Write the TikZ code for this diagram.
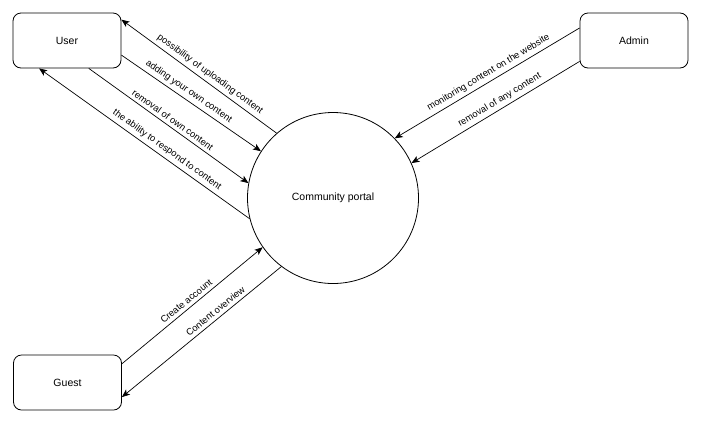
\documentclass[tikz,border=0pt]{standalone}
\usepackage{fontspec}
\setmainfont{Liberation Sans}
\usetikzlibrary{arrows.meta}
\begin{document}
\begin{tikzpicture}[x=1pt,y=-1pt,
  actor/.style={draw=black,line width=0.8pt,rounded corners=8pt,minimum width=108pt,minimum height=55pt,inner sep=0pt,font=\fontsize{10.5}{12}\selectfont},
  proc/.style={draw=black,line width=0.8pt,circle,minimum size=171pt,inner sep=0pt,font=\fontsize{10.5}{12}\selectfont},
  flow/.style={line width=0.7pt,-{Stealth[length=8pt,width=6.5pt,inset=2pt]}},
  lbl/.style={sloped,above,inner sep=3.5pt,font=\fontsize{9.4}{11}\selectfont}]
\fill[white] (0,0) rectangle (703,424);
\useasboundingbox (0,0) rectangle (703,424);
\node[actor] (user) at (67,40.5) {User};
\node[actor] (admin) at (634,40.5) {Admin};
\node[actor] (guest) at (67.5,382.5) {Guest};
\node[proc] (portal) at (333,198) {Community portal};
% user flows
\draw[flow] (portal.131) -- node[lbl,pos=0.46] {possibility of uploading content} (user.21);
\draw[flow] (user.-15) -- node[lbl,pos=0.45] {adding your own content} (portal.147);
\draw[flow] (user.-52.6) -- node[lbl,pos=0.5] {removal of own content} (portal.170);
\draw[flow] (portal.194.5) -- node[lbl,pos=0.415] {the ability to respond to content} (user.225.5);
% admin flows
\draw[flow] (admin.167) -- node[lbl,pos=0.47] {monitoring content on the website} (portal.44.5);
\draw[flow] (admin.201.7) -- node[lbl,pos=0.45] {removal of any content} (portal.24.5);
% guest flows
\draw[flow] (guest.19.7) -- node[lbl,pos=0.49] {Create account} (portal.215.7);
\draw[flow] (portal.233.4) -- node[lbl,pos=0.385] {Content overview} (guest.-15.9);
\end{tikzpicture}
\end{document}
